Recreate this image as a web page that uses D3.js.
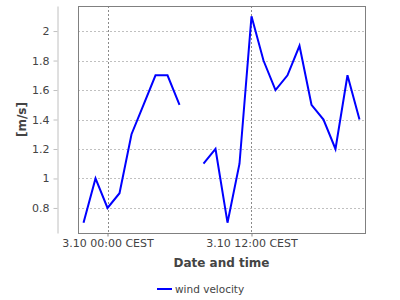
<!DOCTYPE html>
<html>
<head>
<meta charset="utf-8">
<script src="https://cdn.jsdelivr.net/npm/d3@7"></script>
<style>
  body { margin: 0; background: #fff; }
  text { font-family: "DejaVu Sans", sans-serif; fill: #444; }
</style>
</head>
<body>
<div id="viz"></div>
<script>
// hourly readings, 07:00 is missing in the source
var times = ["2014-10-02 22:00", "2014-10-02 23:00", "2014-10-03 00:00", "2014-10-03 01:00",
  "2014-10-03 02:00", "2014-10-03 03:00", "2014-10-03 04:00", "2014-10-03 05:00",
  "2014-10-03 06:00", "2014-10-03 07:00", "2014-10-03 08:00", "2014-10-03 09:00",
  "2014-10-03 10:00", "2014-10-03 11:00", "2014-10-03 12:00", "2014-10-03 13:00",
  "2014-10-03 14:00", "2014-10-03 15:00", "2014-10-03 16:00", "2014-10-03 17:00",
  "2014-10-03 18:00", "2014-10-03 19:00", "2014-10-03 20:00", "2014-10-03 21:00"];
var velocity = [0.7, 1.0, 0.8, 0.9, 1.3, 1.5, 1.7, 1.7, 1.5, null, 1.1, 1.2,
  0.7, 1.1, 2.1, 1.8, 1.6, 1.7, 1.9, 1.5, 1.4, 1.2, 1.7, 1.4];
var xTicks = ["2014-10-03 00:00", "2014-10-03 12:00"];
var yTicks = [0.8, 1, 1.2, 1.4, 1.6, 1.8, 2];
var seriesName = "wind velocity";

var width = 400, height = 300;
var plot = {left: 78, top: 6, right: 365, bottom: 233};

var parseTime = d3.utcParse("%Y-%m-%d %H:%M");
var data = times.map(function(t, i) { return {date: parseTime(t), v: velocity[i]}; });

var svg = d3.select("#viz").append("svg")
  .attr("width", width)
  .attr("height", height);

// x scale with a small margin round the data
var ext = d3.extent(data, d => d.date);
var pad = (ext[1] - ext[0]) * 0.02;
var x = d3.scaleUtc()
  .domain([new Date(+ext[0] - pad), new Date(+ext[1] + pad)])
  .range([plot.left, plot.right]);

var vals = velocity.filter(v => v != null);
var yMin = d3.min(vals), yMax = d3.max(vals), yPad = (yMax - yMin) * 0.05;
var y = d3.scaleLinear()
  .domain([yMin - yPad, yMax + yPad])
  .range([plot.bottom, plot.top]);

var tickFmt = d3.utcFormat("%-d.%m %H:%M");

// background + grid
svg.append("rect")
  .attr("x", plot.left).attr("y", plot.top)
  .attr("width", plot.right - plot.left).attr("height", plot.bottom - plot.top)
  .attr("fill", "#fff");

svg.append("g").selectAll("line")
  .data(yTicks).join("line")
  .attr("x1", plot.left).attr("x2", plot.right)
  .attr("y1", d => Math.round(y(d)) + 0.5).attr("y2", d => Math.round(y(d)) + 0.5)
  .attr("stroke", "#c0c0c0")
  .attr("stroke-dasharray", "2,2");

svg.append("g").selectAll("line")
  .data(xTicks.map(parseTime)).join("line")
  .attr("x1", d => Math.round(x(d)) + 0.5).attr("x2", d => Math.round(x(d)) + 0.5)
  .attr("y1", plot.top).attr("y2", plot.bottom)
  .attr("stroke", "#8a8a8a")
  .attr("stroke-dasharray", "2,2");

// x axis
var xAxis = svg.append("g")
  .attr("transform", "translate(0," + (plot.bottom + 0.5) + ")")
  .call(d3.axisBottom(x)
    .tickValues(xTicks.map(parseTime))
    .tickFormat(d => tickFmt(d) + " CEST")
    .tickSize(3).tickPadding(3));
xAxis.select(".domain").remove();
xAxis.selectAll("line").attr("stroke", "#888");
xAxis.selectAll("text").style("font-size", "11px").attr("fill", "#444");

// y axis sits off to the left of the plot
var yAxis = svg.append("g")
  .attr("transform", "translate(57.5,0)")
  .call(d3.axisLeft(y)
    .tickValues(yTicks)
    .tickFormat(d3.format("~g"))
    .tickSize(4).tickPadding(4).tickSizeOuter(0));
yAxis.select(".domain").attr("stroke", "#c0c0c0");
yAxis.selectAll("line").attr("stroke", "#c0c0c0");
yAxis.selectAll("text").style("font-size", "11px").attr("fill", "#444");

// plot border
svg.append("rect")
  .attr("x", plot.left + 0.5).attr("y", plot.top + 0.5)
  .attr("width", plot.right - plot.left).attr("height", plot.bottom - plot.top)
  .attr("fill", "none")
  .attr("stroke", "#808080");

// the series
var line = d3.line()
  .defined(d => d.v != null)
  .x(d => x(d.date))
  .y(d => y(d.v));

svg.append("path")
  .datum(data)
  .attr("d", line)
  .attr("fill", "none")
  .attr("stroke", "#0000ff")
  .attr("stroke-width", 2);

// axis titles
svg.append("text")
  .attr("x", (plot.left + plot.right) / 2)
  .attr("y", 267)
  .attr("text-anchor", "middle")
  .style("font-size", "12px")
  .style("font-weight", "bold")
  .text("Date and time");

svg.append("text")
  .attr("transform", "translate(26," + (plot.top + plot.bottom) / 2 + ") rotate(-90)")
  .attr("text-anchor", "middle")
  .style("font-size", "12px")
  .style("font-weight", "bold")
  .text("[m/s]");

// legend
var legend = svg.append("g").attr("transform", "translate(157,289)");
legend.append("line")
  .attr("x1", 0).attr("x2", 15)
  .attr("stroke", "#0000ff").attr("stroke-width", 2);
legend.append("text")
  .attr("x", 18).attr("y", 4)
  .style("font-size", "10.5px")
  .text(seriesName);
</script>
</body>
</html>
